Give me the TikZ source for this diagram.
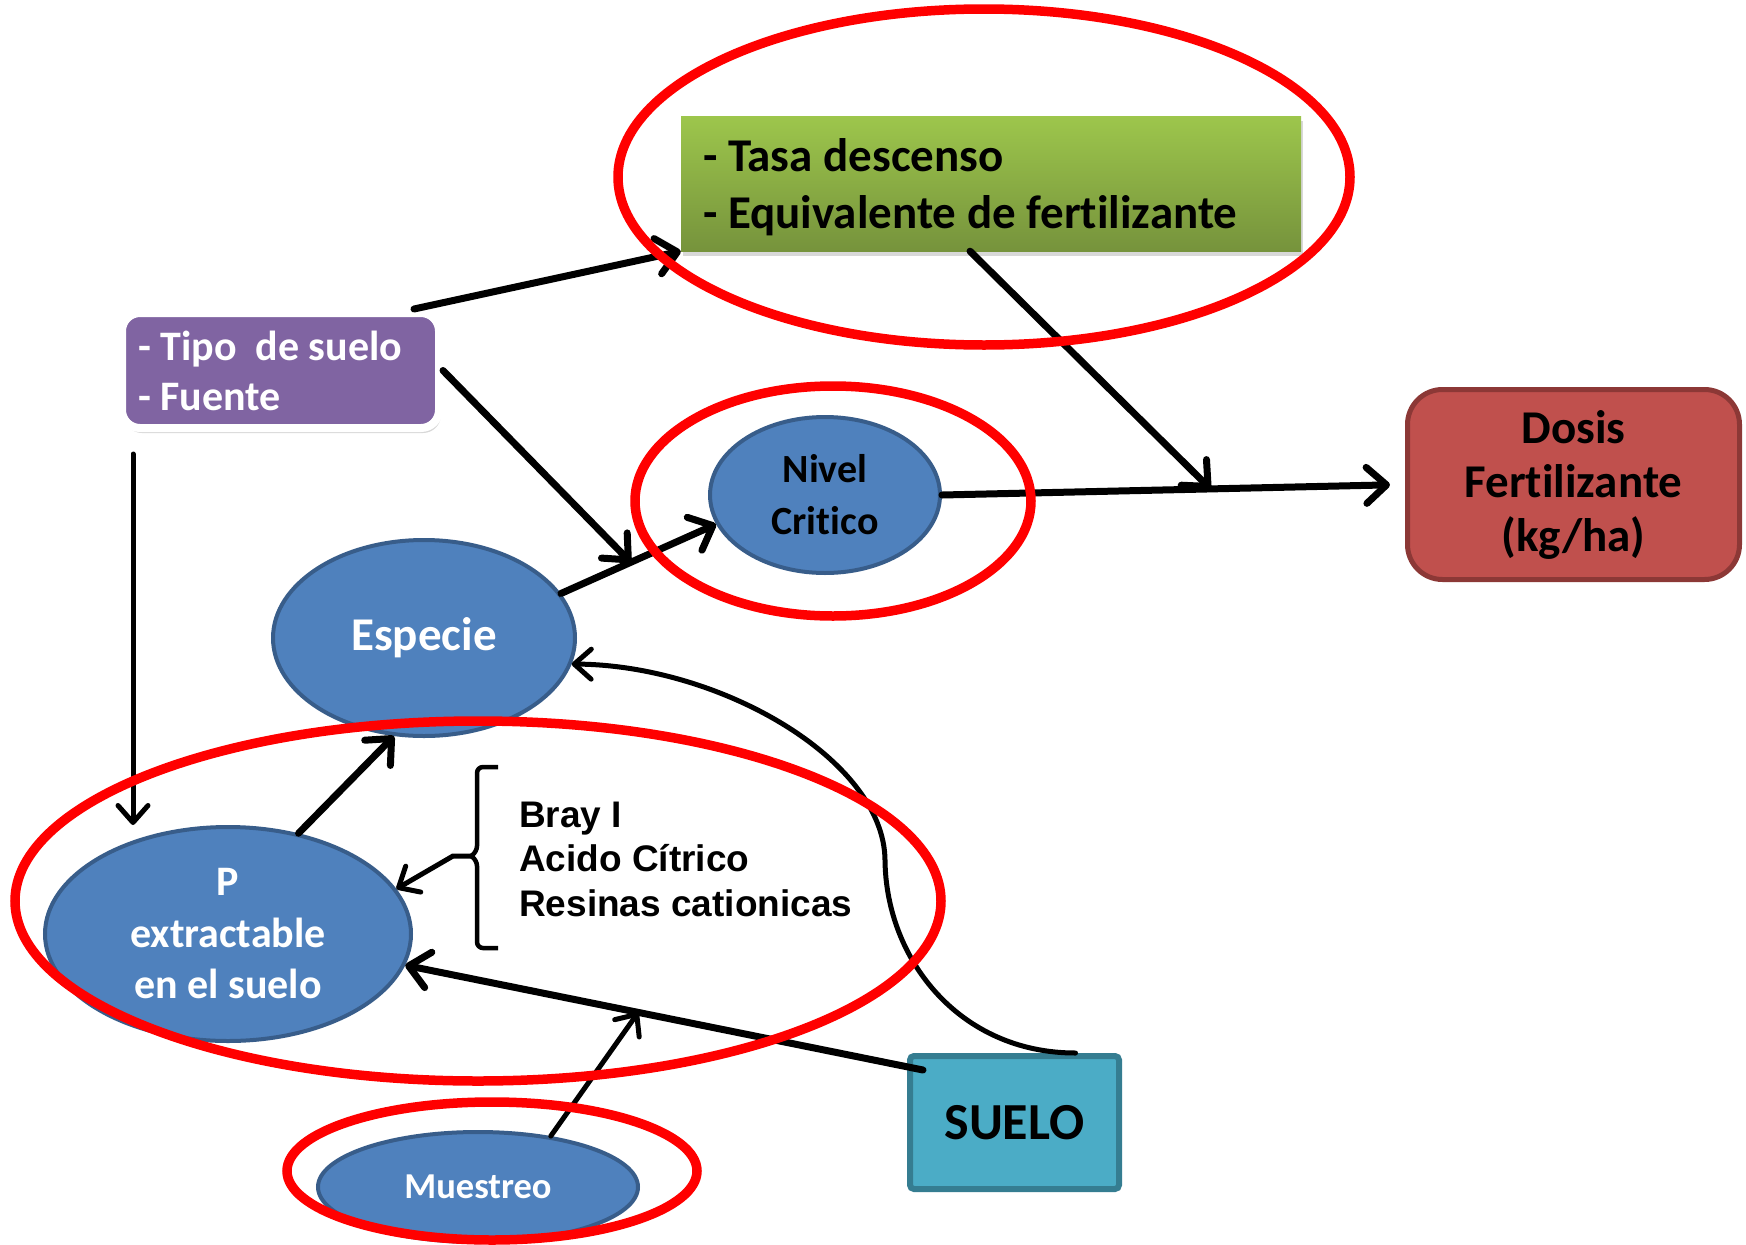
\documentclass[tikz,border=0pt]{standalone}
\usepackage{fontspec}
\setmainfont{Carlito}[Ligatures=NoCommon]
\newfontfamily\arialfont{Liberation Sans}
\usetikzlibrary{shapes.geometric,arrows.meta,shadows}

\definecolor{azul}{HTML}{4F81BD}
\definecolor{azulborde}{HTML}{385D8A}
\definecolor{morado}{HTML}{8064A2}
\definecolor{verdeclaro}{HTML}{9DC64C}
\definecolor{verdeoscuro}{HTML}{76933C}
\definecolor{tejas}{HTML}{C0504D}
\definecolor{tejasborde}{HTML}{8C3836}
\definecolor{celeste}{HTML}{4BACC6}
\definecolor{celesteborde}{HTML}{357D91}

\newcommand*{\anchoimg}{1746}
\newcommand*{\altoimg}{1245}
\newcommand*{\sinesp}{\spaceskip=0pt\relax}

\begin{document}
\begin{tikzpicture}
[
	x=1pt, y=-1pt,
	texto/.style={execute at begin node=\sinesp},
	ovalo/.style={ellipse,draw=azulborde,fill=azul,line width=4pt,inner sep=0pt,align=center,texto},
	flecha/.style={line width=7pt,line cap=round,-{Straight Barb[length=20pt,width=36pt,line width=7pt,round]}},
	flechita/.style={line width=5pt,line cap=round,-{Straight Barb[length=17pt,width=30pt,line width=5pt,round]}},
	rojo/.style={draw=red,line width=9.5pt},
	sombra/.style={drop shadow={shadow xshift=2pt,shadow yshift=-5pt,opacity=.3}}
]

	% fondo
	\path[use as bounding box,fill=white] (0,0) rectangle (\anchoimg,\altoimg);

	% cajas
	\node[draw=white,line width=8pt,fill=morado,rounded corners=18pt,sombra,texto,
		minimum height=115pt,text width=285pt,inner xsep=16pt,align=left,text=white,
		font=\bfseries\fontsize{42}{50}\selectfont] (tipo) at (280.5,370.5) {- Tipo~ de suelo\\- Fuente};
	\node[top color=verdeclaro,bottom color=verdeoscuro,sombra,texto,
		minimum height=135pt,text width=576pt,inner xsep=22pt,align=left,
		font=\bfseries\fontsize{47}{57}\selectfont] (verde) at (991,183.5) {\rule{0pt}{40pt}- Tasa descenso\\- Equivalente de fertilizante};
	\node[draw=tejasborde,fill=tejas,line width=5pt,rounded corners=35pt,texto,
		minimum width=332pt,minimum height=190pt,align=center,
		font=\bfseries\fontsize{47}{54}\selectfont] (dosis) at (1573.5,484.5) {Dosis\\Fertilizante\\(kg/ha)};
	\node[draw=celesteborde,fill=celeste,line width=6pt,rounded corners=4pt,
		minimum width=209pt,minimum height=133pt,
		font=\bfseries\fontsize{52}{60}\selectfont] (suelo) at (1014.5,1122.5) {SUELO};

	% ovalos
	\node[ovalo,minimum width=230pt,minimum height=156pt,font=\bfseries\fontsize{40}{52}\selectfont] (niv) at (825,495) {Nivel\\Critico};
	\node[ovalo,minimum width=302pt,minimum height=196pt,text=white,font=\bfseries\fontsize{47}{55}\selectfont] (esp) at (424,638) {Especie};
	\node[ovalo,minimum width=366pt,minimum height=214pt,text=white,font=\bfseries\fontsize{42}{51.5}\selectfont] (pext) at (228,934) {P\\extractable\\en el suelo};
	\node[ovalo,minimum width=320pt,minimum height=110pt,text=white,font=\bfseries\fontsize{36.5}{44}\selectfont] (mue) at (478,1187) {Muestreo};

	% metodos de extraccion
	\node[anchor=west,inner sep=0pt,align=left,texto,
		font=\arialfont\bfseries\fontsize{37}{44.5}\selectfont] (metodos) at (519,859) {Bray I\\Acido Cítrico\\Resinas cationicas};
	\draw[line width=4.5pt,rounded corners=6pt] (498,767) -- (477,767) -- (477,852) -- (471,856);
	\draw[line width=4.5pt,rounded corners=6pt] (471,856) -- (477,860) -- (477,948) -- (498,948);
	\coordinate (brk) at (472,856);

	% flechas
	\draw[flecha] ([xshift=-29pt]tipo.north east) -- (verde.south west);
	\draw[flecha] (esp.18) -- node[coordinate,pos=.45] (j3) {} (niv.195);
	\draw[flecha] (tipo.east) -- (j3);
	\draw[flecha,shorten >=15pt] (niv.east) -- node[coordinate,pos=.58] (j5) {} (dosis.west);
	\draw[flecha] ([xshift=-21pt]verde.south) -- (j5);
	\coordinate (t6) at ([xshift=15pt,yshift=-22pt]tipo.south west);
	\draw[flechita] (t6) -- (t6 |- pext.north);
	\draw[flecha] (pext.55) -- (esp.253);
	\draw[flechita] (brk) -- ++(-19,0) -- (pext.15);
	\draw[flecha] ([xshift=16pt,yshift=-17pt]suelo.north west) -- node[coordinate,pos=.55] (j9) {} (pext.-10);
	\draw[flechita] (mue.35) -- (j9);
	\draw[flechita] ([xshift=61pt]suelo.north) .. controls (960,1053) and (886,960) .. (885,860)
		.. controls (884,760) and (720,665) .. (esp.-10);

	% marcas rojas
	\draw[rojo] (984,177) ellipse [x radius=366, y radius=168];
	\draw[rojo] (833,501) ellipse [x radius=198, y radius=115];
	\draw[rojo] (478,901) ellipse [x radius=463, y radius=180];
	\draw[rojo] (492,1171) ellipse [x radius=205, y radius=69];

\end{tikzpicture}
\end{document}
